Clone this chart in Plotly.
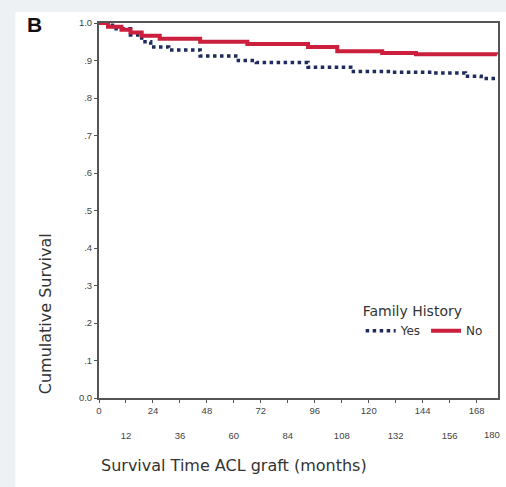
import plotly.graph_objects as go

# Kaplan-Meier style step data (months, cumulative survival)
yes_time = [0, 6, 14, 19, 23, 31, 45, 62, 70, 93, 112, 130, 148, 163, 170, 177]
yes_surv = [1.0, .985, .968, .95, .936, .928, .912, .90, .895, .882, .871, .869, .867, .858, .852, .848]

no_time = [0, 4, 10, 14, 19, 27, 45, 66, 93, 106, 126, 141, 177]
no_surv = [1.0, .99, .982, .975, .966, .958, .95, .944, .936, .925, .92, .917, .916]

x_max = 177.5
x_ticks = list(range(0, 181, 12))
x_labels = [str(v) if (v // 12) % 2 == 0 else "<br><br>" + str(v) for v in x_ticks]
y_ticks = [i / 10 for i in range(11)]
y_labels = ["0.0", ".1", ".2", ".3", ".4", ".5", ".6", ".7", ".8", ".9", "1.0"]

W, H = 506, 487
L, R, T, B = 99, 6, 23, 89
pw, ph = W - L - R, H - T - B


def px(xp):
    return (xp - L) / pw


def py(yp):
    return (H - B - yp) / ph


WIDE = "DejaVu Sans, Verdana, sans-serif"
fig = go.Figure()
fig.add_trace(go.Scatter(
    x=yes_time, y=yes_surv, name="Yes", mode="lines", line_shape="hv",
    line=dict(color="#1f2b5e", width=3.5, dash="dot"),
))
fig.add_trace(go.Scatter(
    x=no_time, y=no_surv, name="No", mode="lines", line_shape="hv",
    line=dict(color="#cc1f3d", width=4),
))

axis_font = dict(family="Liberation Sans, Arial, sans-serif", size=9.5, color="#444444")

fig.update_layout(
    width=W, height=H,
    margin=dict(l=L, r=R, t=T, b=B),
    paper_bgcolor="#eef1f3",
    plot_bgcolor="white",
    showlegend=True,
    legend=dict(
        title=dict(text="Family History", side="top",
                   font=dict(family=WIDE, size=14, color="#333333")),
        orientation="h", x=px(362), y=py(298), xanchor="left", yanchor="top",
        bgcolor="rgba(0,0,0,0)", font=dict(family=WIDE, size=12, color="#333333"),
        itemwidth=30,
    ),
    xaxis=dict(
        range=[0, x_max], tickvals=x_ticks, ticktext=x_labels, tickangle=0,
        showgrid=False, zeroline=False, showline=True, linecolor="#555555", linewidth=2,
        mirror=True, ticks="outside", ticklen=3, tickcolor="#555555", tickfont=axis_font,
    ),
    yaxis=dict(
        range=[0, 1.0], tickvals=y_ticks, ticktext=y_labels,
        showgrid=False, zeroline=False, showline=True, linecolor="#555555", linewidth=2,
        mirror=True, ticks="outside", ticklen=3, tickcolor="#555555", tickfont=axis_font,
    ),
    shapes=[
        dict(type="rect", xref="paper", yref="paper", x0=px(15), x1=px(W + 5), y0=py(H + 5), y1=py(12),
             fillcolor="white", line=dict(width=0), layer="below"),
    ],
    annotations=[
        dict(text="<b>B</b>", xref="paper", yref="paper", x=px(34), y=py(24),
             xanchor="center", yanchor="middle", showarrow=False,
             font=dict(family="Liberation Sans, Arial, sans-serif", size=21, color="#111111")),
        dict(text="Cumulative Survival", xref="paper", yref="paper", x=px(45), y=py(314),
             xanchor="center", yanchor="middle", textangle=-90, showarrow=False,
             font=dict(family=WIDE, size=16, color="#333333")),
        dict(text="Survival Time ACL graft (months)", xref="paper", yref="paper", x=px(235), y=py(465),
             xanchor="center", yanchor="middle", showarrow=False,
             font=dict(family=WIDE, size=16, color="#333333")),
        # last tick label of the lower row, nudged in so it stays on the page
        dict(text="180", xref="paper", yref="paper", x=px(504), y=py(434),
             xanchor="right", yanchor="middle", showarrow=False, font=axis_font),
    ],
)

fig.write_html("out.html")
